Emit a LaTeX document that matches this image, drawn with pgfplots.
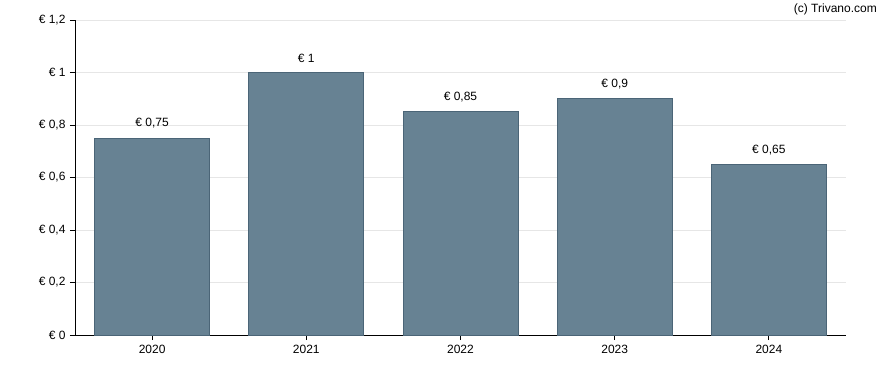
\documentclass[border=0pt]{standalone}
\usepackage{pgfplots}
\pgfplotsset{compat=1.18}
\usepackage{fontspec}
\setmainfont{Liberation Sans}
\definecolor{barfill}{HTML}{678293}
\definecolor{baredge}{HTML}{4B6577}
\definecolor{gridc}{HTML}{E6E6E6}
\begin{document}
\begin{tikzpicture}
\useasboundingbox (0bp,0bp) rectangle (888bp,370bp);
\begin{axis}[
  at={(75bp,35bp)}, anchor=south west,
  scale only axis, width=771bp, height=315bp,
  xmin=-0.5, xmax=4.5, ymin=0, ymax=1.2,
  axis lines*=left,
  axis line style={black, line width=0.9bp},
  xtick={0,1,2,3,4},
  xticklabels={2020,2021,2022,2023,2024},
  ytick={0,0.2,0.4,0.6,0.8,1,1.2},
  yticklabels={{€ 0},{€ 0,2},{€ 0,4},{€ 0,6},{€ 0,8},{€ 1},{€ 1,2}},
  tick style={black, line width=0.9bp},
  tick align=outside,
  major tick length=5bp,
  ymajorgrids, xmajorgrids=false,
  grid style={gridc, line width=0.8bp},
  tick label style={font=\fontsize{12bp}{14bp}\selectfont},
  yticklabel style={xshift=-1bp},
  xticklabel style={yshift=-2bp},
  /pgf/number format/assume math mode=true,
  clip=false,
]
\addplot[ybar, bar width=115bp, fill=barfill, draw=baredge, line width=0.8bp,
  point meta=y,
  nodes near coords={€ \pgfmathprintnumber[use comma]{\pgfplotspointmeta}},
  nodes near coords style={anchor=south, yshift=6bp, text=black, font=\fontsize{12bp}{14bp}\selectfont},
] coordinates {(0,0.75) (1,1) (2,0.85) (3,0.9) (4,0.65)};
\end{axis}
\node[anchor=north east, inner sep=0pt, font=\fontsize{12bp}{14bp}\selectfont] at (877bp,366bp) {(c) Trivano.com};
\end{tikzpicture}
\end{document}
